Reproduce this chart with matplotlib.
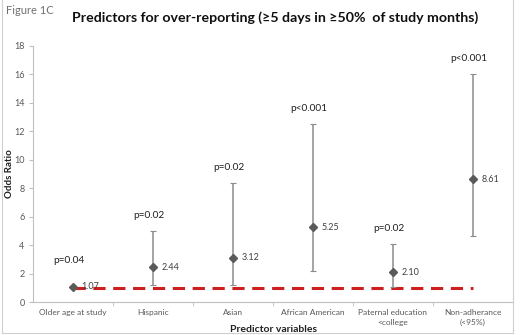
import matplotlib
matplotlib.use("Agg")
import matplotlib.pyplot as plt
from matplotlib.lines import Line2D

plt.rcParams['font.family'] = ['Lato', 'DejaVu Sans']

categories = ['Older age at study', 'Hispanic', 'Asian', 'African American',
              'Paternal education\n<college', 'Non-adherance\n(<95%)']
odds = [1.07, 2.44, 3.12, 5.25, 2.10, 8.61]
ci_low = [1.01, 1.19, 1.17, 2.18, 1.05, 4.63]
ci_high = [1.14, 5.00, 8.35, 12.5, 4.07, 16.0]
pvals = ['p=0.04', 'p=0.02', 'p=0.02', 'p<0.001', 'p=0.02', 'p<0.001']
yticks = [0, 2, 4, 6, 8, 10, 12, 14, 16, 18]

fig = plt.figure(figsize=(5.2, 3.35), dpi=100)
ax = fig.add_axes([0.0635, 0.0985, 0.923, 0.7655])

x = list(range(1, len(categories) + 1))
err = [[o - l for o, l in zip(odds, ci_low)], [h - o for o, h in zip(odds, ci_high)]]

# reference line at OR = 1
ax.plot([x[0], x[-1]], [1, 1], color='#cc1f1f', lw=2.2, ls=(0, (4, 2.5)), zorder=1)

ax.errorbar(x, odds, yerr=err, fmt='D', color='#5a5a5a', ms=4.5,
            ecolor='#8c8c8c', elinewidth=1.1, capsize=2, capthick=0.8, zorder=3)

for xi, o, h, p in zip(x, odds, ci_high, pvals):
    ax.annotate('%.2f' % o, (xi, o), xytext=(6, 0), textcoords='offset points',
                va='center', ha='left', fontsize=6.5, color='#404040', zorder=4)
    ax.text(xi - 0.05, max(h + 1.1, 2.9), p, ha='center', va='center',
            fontsize=7.3, color='#202020')

ax.set_xlim(0.5, len(categories) + 0.5)
ax.set_ylim(0, 18)
ax.set_yticks(yticks)
ax.set_yticklabels([str(t) for t in yticks], fontsize=6.5, color='#595959')
ax.set_xticks(x)
ax.set_xticklabels(categories, fontsize=6, color='#595959', linespacing=1.5)
ax.set_xticks([i + 0.5 for i in x[:-1]], minor=True)
ax.tick_params(axis='x', which='major', length=0, pad=5)
ax.tick_params(axis='x', which='minor', length=3, color='#bfbfbf')
ax.tick_params(axis='y', length=3, color='#bfbfbf', pad=3)

for s in ['top', 'right']:
    ax.spines[s].set_visible(False)
for s in ['left', 'bottom']:
    ax.spines[s].set_color('#bfbfbf')
    ax.spines[s].set_linewidth(0.8)

ax.set_ylabel('Odds Ratio', fontsize=7, fontweight='bold', color='#202020')
ax.yaxis.set_label_coords(-0.039, 0.5)
ax.set_xlabel('Predictor variables', fontsize=7.5, fontweight='bold', color='#202020', labelpad=0)
ax.xaxis.set_label_coords(0.5, -0.09)

fig.text(0.53, 0.948, 'Predictors for over-reporting (≥5 days in ≥50%  of study months)',
         ha='center', va='center', fontsize=10.2, fontweight='bold', color='#101010')
fig.text(0.012, 0.97, 'Figure 1C', ha='left', va='center', fontsize=8, color='#707070')

# outer frame
for xs, ys in [([0.004, 0.004], [0.006, 1.0]), ([0.004, 0.986], [0.006, 0.006]),
               ([0.986, 0.986], [0.006, 1.0])]:
    fig.add_artist(Line2D(xs, ys, color='#d0d0d0', lw=0.8, transform=fig.transFigure))

fig.savefig('out.png', dpi=100)
